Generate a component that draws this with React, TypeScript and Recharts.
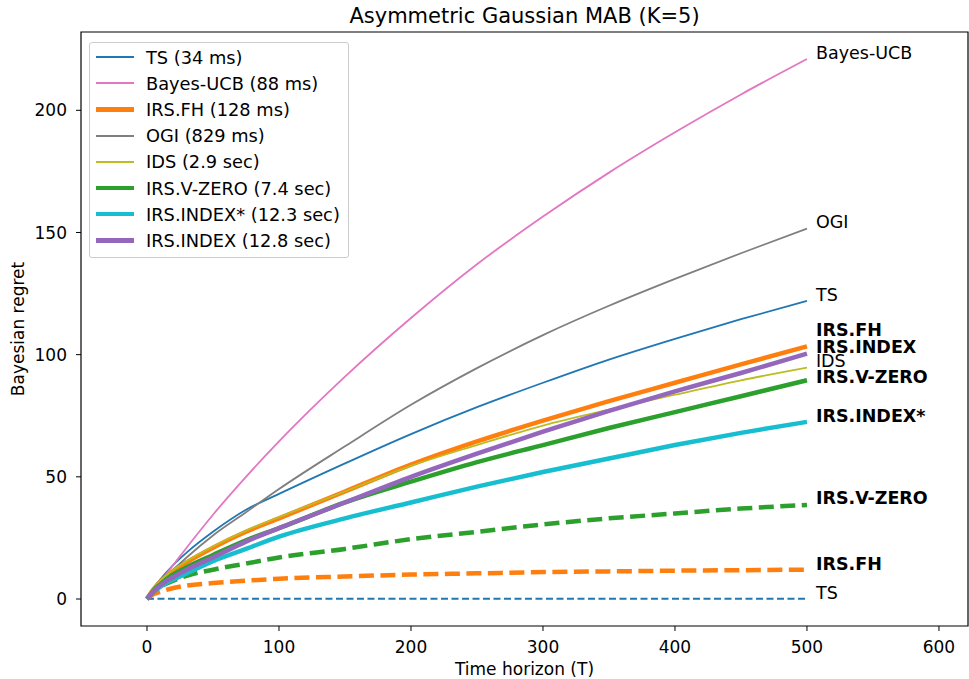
import { LineChart, Line, XAxis, YAxis, Legend, ReferenceArea } from 'recharts';

// time horizons where regret was measured
const T = [0, 5, 10, 20, 30, 50, 75, 100, 150, 200, 250, 300, 350, 400, 450, 500];

// Bayesian regret per policy
const ts = [0, 4.5, 8, 14, 19, 27.5, 36.5, 43, 55.5, 67.5, 78.5, 88.5, 98, 106.5, 114.5, 122];
const bayesUcb = [0, 3.5, 7, 14, 21, 34.5, 50, 64.5, 91, 115, 137, 156.5, 174.5, 191, 206.5, 221];
const irsFh = [0, 4, 7, 11.5, 15, 21, 27.5, 33, 44, 55, 64.5, 73, 81, 88.5, 96, 103.4];
const ogi = [0, 3.5, 6.5, 12, 17, 26, 35.5, 45, 62.5, 79.5, 94.5, 108, 120, 131, 141.5, 151.6];
const ids = [0, 4.5, 7.5, 12, 15.5, 21.5, 28, 33.5, 44, 54.5, 63, 71, 77.5, 83.6, 89.5, 94.7];
const irsVZero = [0, 3.5, 6, 10, 13, 18, 24, 29, 39.5, 48, 56, 63, 70, 76.5, 83, 89.5];
const irsIndexStar = [0, 3, 5, 8, 10.5, 15.5, 20.5, 25.5, 33, 39.5, 46, 52, 57.5, 63, 68, 72.5];
const irsIndex = [0, 3, 5.5, 9, 12, 17, 23.5, 29, 39.5, 50, 59.5, 68.5, 77, 85, 92.5, 100.4];

// dashed curves (same policies, second quantity)
const vZeroDashed = [0, 3, 5, 7.5, 9.5, 12, 14.5, 17, 20.5, 24.5, 27.5, 30.5, 33, 35, 37, 38.5];
const fhDashed = [0, 2, 3, 4.5, 5.5, 6.5, 7.5, 8.3, 9.2, 10, 10.5, 11, 11.3, 11.6, 11.8, 12];
const tsDashed = [0, 0.1, 0.1, 0.1, 0.1, 0.1, 0.1, 0.1, 0.1, 0.1, 0.1, 0.1, 0.1, 0.1, 0.1, 0.1];

const xTicks = [0, 100, 200, 300, 400, 500, 600];
const yTicks = [0, 50, 100, 150, 200];

const X_DOMAIN = [-50, 622];
const Y_DOMAIN = [-11.05, 232.05];
const FONT = '"DejaVu Sans", sans-serif';

const data = T.map((t, i) => ({
  t,
  ts: ts[i],
  bayesUcb: bayesUcb[i],
  irsFh: irsFh[i],
  ogi: ogi[i],
  ids: ids[i],
  irsVZero: irsVZero[i],
  irsIndexStar: irsIndexStar[i],
  irsIndex: irsIndex[i],
  vZeroDashed: vZeroDashed[i],
  fhDashed: fhDashed[i],
  tsDashed: tsDashed[i],
}));

type Series = {
  key: string;
  legend?: string;
  end: string;
  color: string;
  width: number;
  dash?: string;
  bold?: boolean;
  dy: number;
};

const THIN = 1.8;
const THICK = 4.5;

const dashedSeries: Series[] = [
  { key: 'tsDashed', end: 'TS', color: '#1f77b4', width: THIN, dash: '7 3.5', dy: -6 },
  { key: 'fhDashed', end: 'IRS.FH', color: '#ff7f0e', width: THICK, dash: '15 6.5', bold: true, dy: -6 },
  { key: 'vZeroDashed', end: 'IRS.V-ZERO', color: '#2ca02c', width: THICK, dash: '15 6.5', bold: true, dy: -7 },
];

const solidSeries: Series[] = [
  { key: 'ts', legend: 'TS (34 ms)', end: 'TS', color: '#1f77b4', width: THIN, dy: -6 },
  { key: 'bayesUcb', legend: 'Bayes-UCB (88 ms)', end: 'Bayes-UCB', color: '#e377c2', width: THIN, dy: -6 },
  { key: 'irsFh', legend: 'IRS.FH (128 ms)', end: 'IRS.FH', color: '#ff7f0e', width: THICK, bold: true, dy: -16 },
  { key: 'ogi', legend: 'OGI (829 ms)', end: 'OGI', color: '#7f7f7f', width: THIN, dy: -7 },
  { key: 'ids', legend: 'IDS (2.9 sec)', end: 'IDS', color: '#bcbd22', width: THIN, dy: -7 },
  { key: 'irsVZero', legend: 'IRS.V-ZERO (7.4 sec)', end: 'IRS.V-ZERO', color: '#2ca02c', width: THICK, bold: true, dy: -3 },
  { key: 'irsIndexStar', legend: 'IRS.INDEX* (12.3 sec)', end: 'IRS.INDEX*', color: '#17becf', width: THICK, bold: true, dy: -6 },
  { key: 'irsIndex', legend: 'IRS.INDEX (12.8 sec)', end: 'IRS.INDEX', color: '#9467bd', width: THICK, bold: true, dy: -7 },
];

// text next to the last point of a curve
const endLabel = (s: Series) => (props: any) => {
  const { x, y, index } = props;
  if (index !== T.length - 1) return <g key={`${s.key}-${index}`} />;
  return (
    <text
      key={`${s.key}-end`}
      x={x + 9}
      y={y + s.dy}
      dominantBaseline="central"
      fontFamily={FONT}
      fontSize={17.5}
      fontWeight={s.bold ? 'bold' : 'normal'}
      fill="#000"
    >
      {s.end}
    </text>
  );
};

const LegendBox = () => (
  <div
    style={{
      border: '1px solid #cccccc',
      borderRadius: 3,
      background: 'rgba(255,255,255,0.85)',
      padding: '1px 8px 3px 6px',
      fontFamily: FONT,
      fontSize: 17.8,
      color: '#000',
    }}
  >
    {solidSeries.map((s) => (
      <div key={s.key} style={{ display: 'flex', alignItems: 'center', height: 26.2 }}>
        <div style={{ width: 38, height: s.width, background: s.color, marginRight: 12, flex: 'none' }} />
        <span style={{ whiteSpace: 'nowrap' }}>{s.legend}</span>
      </div>
    ))}
  </div>
);

const renderLine = (s: Series) => (
  <Line
    key={s.key}
    type="monotone"
    dataKey={s.key}
    stroke={s.color}
    strokeWidth={s.width}
    strokeDasharray={s.dash}
    dot={false}
    activeDot={false}
    legendType={s.legend ? 'line' : 'none'}
    isAnimationActive={false}
    label={endLabel(s)}
  />
);

export default function App() {
  return (
    <div style={{ position: 'absolute', left: 0, top: 0, width: 969, height: 679, background: '#fff' }}>
      <div
        style={{
          position: 'absolute',
          left: 81,
          width: 887,
          top: 4,
          textAlign: 'center',
          fontFamily: FONT,
          fontSize: 21,
          lineHeight: '24px',
          color: '#000',
        }}
      >
        Asymmetric Gaussian MAB (K=5)
      </div>
      <LineChart width={969} height={679} data={data} margin={{ top: 32, right: 1, bottom: 0, left: 0 }}>
        <XAxis
          dataKey="t"
          type="number"
          domain={X_DOMAIN}
          ticks={xTicks}
          allowDataOverflow
          height={53}
          axisLine={false}
          tickLine={{ stroke: '#000' }}
          tickSize={5}
          tickMargin={10}
          tick={{ fill: '#000', fontFamily: FONT, fontSize: 17 }}
          label={{
            content: () => (
              <text x={524.5} y={675} textAnchor="middle" fontFamily={FONT} fontSize={17} fill="#000">
                Time horizon (T)
              </text>
            ),
          }}
        />
        <YAxis
          type="number"
          domain={Y_DOMAIN}
          ticks={yTicks}
          allowDataOverflow
          width={81}
          axisLine={false}
          tickLine={{ stroke: '#000' }}
          tickSize={5}
          tickMargin={9}
          tick={{ fill: '#000', fontFamily: FONT, fontSize: 17 }}
          label={{
            content: () => (
              <text
                transform="translate(17.5,329) rotate(-90)"
                textAnchor="middle"
                dominantBaseline="central"
                fontFamily={FONT}
                fontSize={17}
                fill="#000"
              >
                Bayesian regret
              </text>
            ),
          }}
        />
        <ReferenceArea
          x1={X_DOMAIN[0]}
          x2={X_DOMAIN[1]}
          y1={Y_DOMAIN[0]}
          y2={Y_DOMAIN[1]}
          fill="none"
          stroke="#000"
          strokeWidth={1.2}
          ifOverflow="visible"
        />
        {dashedSeries.map(renderLine)}
        {solidSeries.map(renderLine)}
        <Legend
          layout="vertical"
          align="center"
          verticalAlign="middle"
          wrapperStyle={{ left: 89, top: 42, width: 'auto', height: 'auto' }}
          content={() => <LegendBox />}
        />
      </LineChart>
    </div>
  );
}
